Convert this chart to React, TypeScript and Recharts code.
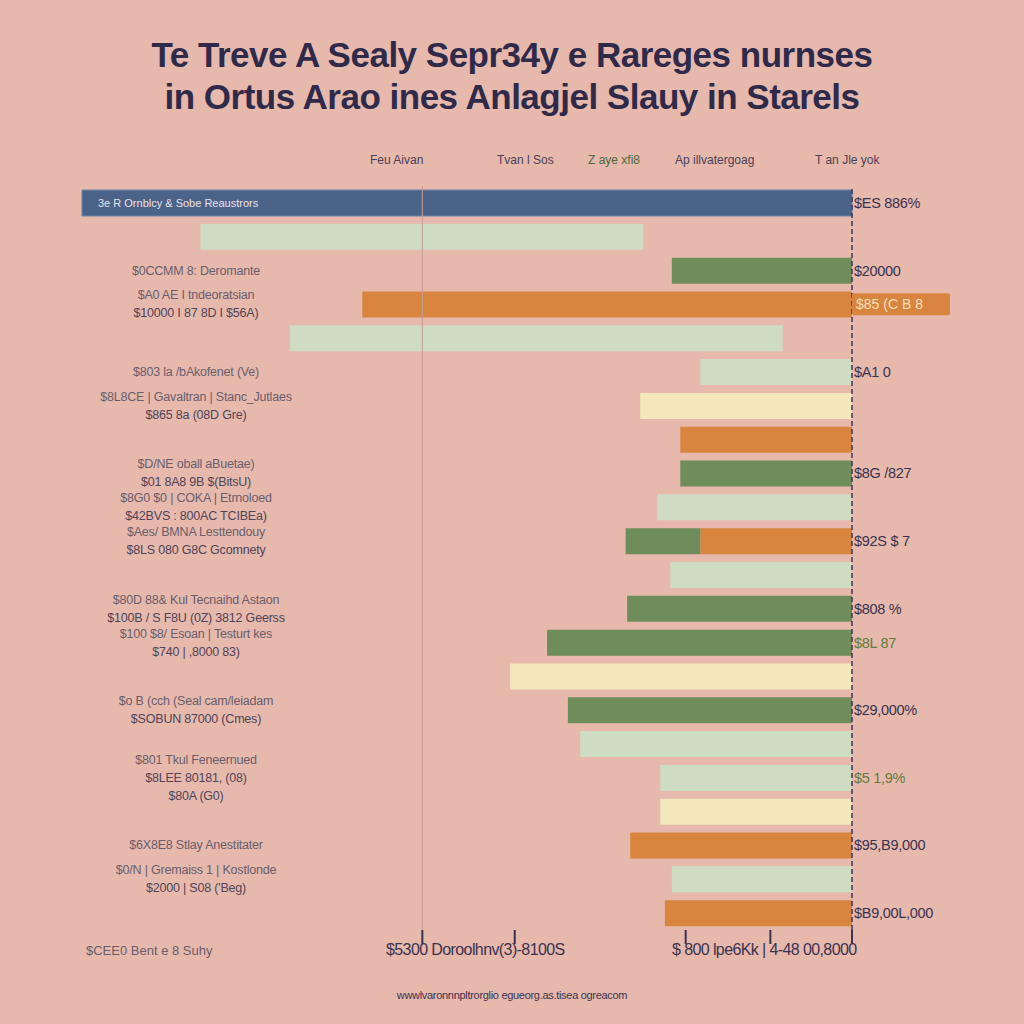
import { BarChart, Bar, XAxis, YAxis, Cell, ReferenceLine, LabelList } from 'recharts';

const rowIds = [
  'r0', 'r1', 'r2', 'r3', 'r4', 'r5', 'r6', 'r7', 'r8', 'r9', 'r10',
  'r11', 'r12', 'r13', 'r14', 'r15', 'r16', 'r17', 'r18', 'r19', 'r20', 'r21',
];

// first segment (from the right-hand axis) and second segment of each bar
const baseValues = [100, 27.1, 23.4, 63.6, 9.0, 19.7, 27.5, 22.3, 22.3, 25.3, 19.7, 23.6, 29.2, 39.6, 44.4, 36.9, 35.3, 24.9, 24.9, 28.8, 23.4, 24.3];
const tailValues = [0, 57.5, 0, 0, 64.0, 0, 0, 0, 0, 0, 9.7, 0, 0, 0, 0, 0, 0, 0, 0, 0, 0, 0];

const baseKinds = ['navy', 'none', 'green', 'orange', 'none', 'pale', 'cream', 'orange', 'green', 'pale', 'orange', 'pale', 'green', 'green', 'cream', 'green', 'pale', 'pale', 'cream', 'orange', 'pale', 'orange'];
const tailKinds = ['none', 'pale', 'none', 'none', 'pale', 'none', 'none', 'none', 'none', 'none', 'green', 'none', 'none', 'none', 'none', 'none', 'none', 'none', 'none', 'none', 'none', 'none'];

const rowLabels = [
  '', '', '$0CCMM 8: Deromante',
  '$A0 AE I tndeoratsian\n$10000 I 87 8D I $56A)',
  '', '$803 la /bAkofenet (Ve)',
  '$8L8CE | Gavaltran | Stanc_Jutlaes\n$865 8a (08D Gre)',
  '', '$D/NE oball aBuetae)\n$01 8A8 9B $(BitsU)',
  '$8G0 $0 | COKA | Etrnoloed\n$42BVS : 800AC TCIBEa)',
  '$Aes/ BMNA Lesttendouy\n$8LS 080 G8C Gcomnety',
  '', '$80D 88& Kul Tecnaihd Astaon\n$100B / S F8U (0Z) 3812 Geerss',
  '$100 $8/ Esoan | Testurt kes\n$740 | ,8000 83)',
  '', '$o B (cch (Seal cam/leiadam\n$SOBUN 87000 (Cmes)',
  '', '$801 Tkul Feneernued\n$8LEE 80181, (08)\n$80A (G0)',
  '', '$6X8E8 Stlay Anestitater', '$0/N | Gremaiss 1 | Kostlonde\n$2000 | S08 (\'Beg)', '',
];

const valueLabels = [
  '$ES 886%', '', '$20000', '$85 (C B 8', '', '$A1 0', '', '', '$8G /827', '', '$92S $ 7',
  '', '$808 %', '$8L 87', '', '$29,000%', '', '$5 1,9%', '', '$95,B9,000', '', '$B9,00L,000',
];

const navyText = '3e R Ornblcy & Sobe Reaustrors';
const legendItems = ['Feu Aivan', 'Tvan l Sos', 'Z aye xfi8', 'Ap illvatergoag', 'T an Jle yok'];
const axisTicks = [0, 10.6, 21.6, 43.8, 55.8];
const axisCaptions = ['$5300 Doroolhnv(3)-8100S', '$ 800 lpe6Kk | 4-48 00,8000'];

const COLORS: Record<string, string> = {
  navy: '#4b6289',
  green: '#6f8d5b',
  orange: '#d9853f',
  pale: '#cfdcc4',
  cream: '#f3e7bb',
  none: 'transparent',
};

const data = rowIds.map((id, i) => ({ id, base: baseValues[i], tail: tailValues[i] }));

const CatTick = (props: any) => {
  const { x, y, payload } = props;
  const i = rowIds.indexOf(payload.value);
  const lines = (rowLabels[i] || '').split('\n').filter(Boolean);
  if (!lines.length) return null;
  const cx = x + 122;
  const step = 18;
  const start = -((lines.length - 1) * step) / 2 + 4;
  return (
    <text textAnchor="middle" fontFamily="Liberation Sans, Arial, sans-serif" fontSize={12.5} letterSpacing={-0.2}>
      {lines.map((l, k) => (
        <tspan key={k} x={cx} y={y + start + k * step} fill={k === 0 ? '#6a5e6c' : '#4f4458'}>
          {l}
        </tspan>
      ))}
    </text>
  );
};

const ValTick = (props: any) => {
  const { x, y, payload } = props;
  const i = rowIds.indexOf(payload.value);
  const label = valueLabels[i];
  if (!label) return null;
  const green = i === 13 || i === 17;
  if (i === 3) {
    return (
      <g>
        <rect x={x - 8} y={y - 11} width={98} height={22} rx={2} fill={COLORS.orange} />
        <text x={x - 4} y={y + 5} fontFamily="Liberation Sans, Arial, sans-serif" fontSize={14} fill="#f7dfbd">
          {label}
        </text>
      </g>
    );
  }
  return (
    <text x={x - 6} y={y + 5} fontFamily="Liberation Sans, Arial, sans-serif" fontSize={14.5} letterSpacing={-0.3} fill={green ? '#5f7d3e' : '#3a3350'}>
      {label}
    </text>
  );
};

const NavyLabel = (props: any) => {
  const { x, y, width, height, index } = props;
  if (index !== 0) return null;
  const left = Math.min(x, x + width);
  return (
    <text x={left + 16} y={y + height / 2 + 4} fontFamily="Liberation Sans, Arial, sans-serif" fontSize={11} fill="#e9e2ea">
      {navyText}
    </text>
  );
};

export default function App() {
  return (
    <div
      style={{
        position: 'absolute',
        left: 0,
        top: 0,
        width: 1024,
        height: 1024,
        background: '#e7b8ac',
        fontFamily: 'Liberation Sans, Arial, sans-serif',
        overflow: 'hidden',
      }}
    >
      <div
        style={{
          position: 'absolute',
          top: 34,
          left: 0,
          width: 1024,
          textAlign: 'center',
          color: '#2f2a4a',
          fontWeight: 700,
          fontSize: 35,
          lineHeight: '42px',
          letterSpacing: -0.5,
        }}
      >
        Te Treve A Sealy Sepr34y e Rareges nurnses
        <br />
        in Ortus Arao ines Anlagjel Slauy in Starels
      </div>

      {legendItems.map((t, i) => (
        <div
          key={t}
          style={{
            position: 'absolute',
            top: 153,
            left: [370, 497, 588, 675, 815][i],
            fontSize: 12,
            color: i === 2 ? '#4f6a3c' : '#4a4158',
            whiteSpace: 'nowrap',
          }}
        >
          {t}
        </div>
      ))}

      <BarChart
        width={1024}
        height={1024}
        data={data}
        layout="vertical"
        margin={{ top: 186, right: 0, left: 0, bottom: 74 }}
        barSize={26}
        style={{ position: 'absolute', left: 0, top: 0 }}
      >
        <XAxis
          type="number"
          reversed
          domain={[0, 100]}
          ticks={axisTicks}
          tickFormatter={() => ''}
          axisLine={false}
          tickSize={14}
          tickLine={{ stroke: '#3a3350', strokeWidth: 2 }}
          height={20}
        />
        <YAxis yAxisId="cat" type="category" dataKey="id" width={82} axisLine={false} tickLine={false} tick={<CatTick />} interval={0} />
        <YAxis
          yAxisId="val"
          orientation="right"
          type="category"
          dataKey="id"
          width={172}
          axisLine={false}
          tickLine={false}
          tick={<ValTick />}
          interval={0}
        />
        <ReferenceLine yAxisId="cat" x={55.8} stroke="#c49d96" strokeWidth={1} />
        <Bar yAxisId="cat" dataKey="base" stackId="s" isAnimationActive={false}>
          {data.map((d, i) => (
            <Cell key={d.id} fill={COLORS[baseKinds[i]]} stroke={i === 0 ? '#6f84a8' : 'none'} />
          ))}
          <LabelList dataKey="base" content={<NavyLabel />} />
        </Bar>
        <Bar yAxisId="cat" dataKey="tail" stackId="s" isAnimationActive={false}>
          {data.map((d, i) => (
            <Cell key={d.id} fill={COLORS[tailKinds[i]]} />
          ))}
        </Bar>
        <ReferenceLine yAxisId="cat" x={0} stroke="#3d3556" strokeWidth={1.5} strokeDasharray="5 3" />
      </BarChart>

      <div style={{ position: 'absolute', top: 941, left: 386, fontSize: 16, color: '#3a3350', whiteSpace: 'nowrap', letterSpacing: -0.6 }}>
        {axisCaptions[0]}
      </div>
      <div style={{ position: 'absolute', top: 941, left: 672, fontSize: 16, color: '#3a3350', whiteSpace: 'nowrap', letterSpacing: -0.6 }}>
        {axisCaptions[1]}
      </div>
      <div style={{ position: 'absolute', top: 943, left: 86, fontSize: 13, color: '#6a5e6c', whiteSpace: 'nowrap' }}>
        $CEE0 Bent e 8 Suhy
      </div>
      <div style={{ position: 'absolute', top: 989, left: 0, width: 1024, textAlign: 'center', fontSize: 11, color: '#3a3350', letterSpacing: -0.3 }}>
        wwwlvaronnnpltrorglio egueorg.as.tisea ogreacom
      </div>
    </div>
  );
}
